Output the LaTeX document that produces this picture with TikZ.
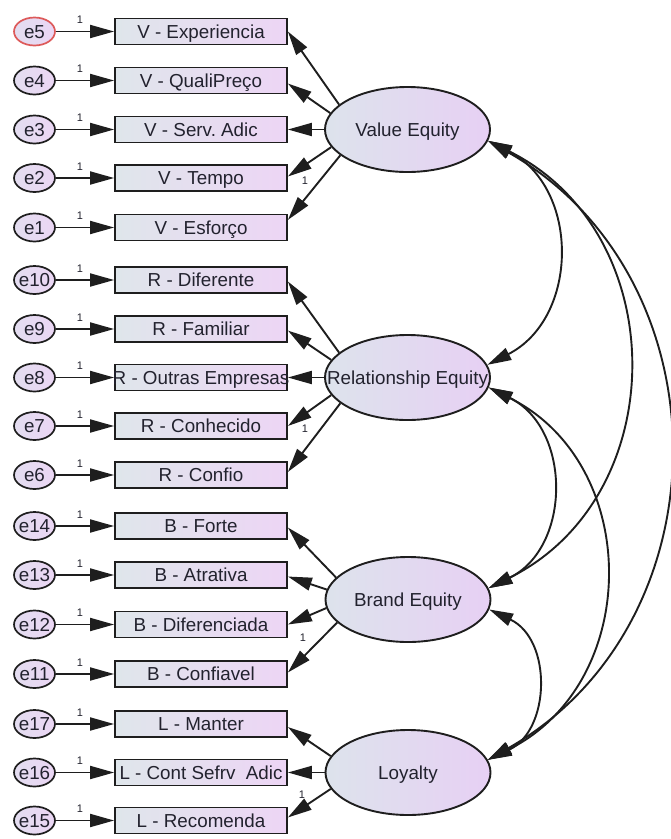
\documentclass[tikz,border=0pt]{standalone}
\usepackage{fontspec}
\setmainfont{Liberation Sans}
\usetikzlibrary{arrows.meta,shapes.geometric}
\frenchspacing

\definecolor{boxL}{HTML}{DFE6EB}
\definecolor{boxR}{HTML}{EDD5F5}
\definecolor{latL}{HTML}{DDE3EC}
\definecolor{latR}{HTML}{E7D0F4}
\definecolor{errL}{HTML}{E3DDF0}
\definecolor{errR}{HTML}{EBD6F4}
\definecolor{ink}{HTML}{1E1E1E}
\definecolor{txt}{HTML}{22222E}
\definecolor{flag}{HTML}{DD5A5A}

% zero-width label so the shapes keep their own size
\newcommand\zw[1]{\makebox[0pt]{#1}}

\begin{document}
\begin{tikzpicture}[x=1pt,y=-1pt,
  every node/.style={font=\fontsize{18.8}{20}\selectfont, text=txt,
    text height=13.5pt, text depth=0pt},
  obs/.style={draw=ink, line width=1.8pt, left color=boxL, right color=boxR,
    minimum width=172pt, minimum height=26pt, inner sep=0pt},
  err/.style={ellipse, draw=ink, line width=1.7pt, left color=errL, right color=errR,
    minimum width=41pt, minimum height=28pt, inner sep=0pt},
  lat/.style={ellipse, draw=ink, line width=1.9pt, left color=latL, right color=latR,
    minimum width=165pt, minimum height=85pt, inner sep=0pt},
  conn/.style={draw=ink, line width=1.9pt, -{Triangle[length=24pt,width=13pt]}},
  cov/.style={draw=ink, line width=1.9pt,
    {Triangle[length=24pt,width=13pt]}-{Triangle[length=24pt,width=13pt]}},
  one/.style={font=\fontsize{11}{12}\selectfont, text height=8pt, inner sep=0pt}
]
\useasboundingbox (0,0) rectangle (671,839);

% ---- latent variables
\node[lat] (VE) at (407.5,129.5) {\zw{Value Equity}};
\node[lat] (RE) at (407.5,377.5) {\zw{Relationship Equity}};
\node[lat] (BE) at (408,599.5) {\zw{Brand Equity}};
\node[lat] (LY) at (408,772.5) {\zw{Loyalty}};

% ---- observed indicators
\node[obs] (v1) at (201,31.5)  {\zw{V - Experiencia}};
\node[obs] (v2) at (201,80.5)  {\zw{V - QualiPreço}};
\node[obs] (v3) at (201,129.5) {\zw{V - Serv. Adic}};
\node[obs] (v4) at (201,178)   {\zw{V - Tempo}};
\node[obs] (v5) at (201,227.5) {\zw{V - Esforço}};

\node[obs] (r1) at (201,280)   {\zw{R - Diferente}};
\node[obs] (r2) at (201,329)   {\zw{R - Familiar}};
\node[obs] (r3) at (201,377.5) {\zw{R - Outras Empresas}};
\node[obs] (r4) at (201,426)   {\zw{R - Conhecido}};
\node[obs] (r5) at (201,475)   {\zw{R - Confio}};

\node[obs] (b1) at (201,526)   {\zw{B - Forte}};
\node[obs] (b2) at (201,575)   {\zw{B - Atrativa}};
\node[obs] (b3) at (201,624.5) {\zw{B - Diferenciada}};
\node[obs] (b4) at (201,674)   {\zw{B - Confiavel}};

\node[obs] (l1) at (201,724)   {\zw{L - Manter}};
\node[obs] (l2) at (201,772.5) {\zw{L - Cont Sefrv~ Adic}};
\node[obs] (l3) at (201,820.5) {\zw{L - Recomenda}};

% ---- error terms
\node[err, draw=flag] (e5) at (34.5,31.5) {\zw{e5}};
\node[err] (e4)  at (34.5,80.5)  {\zw{e4}};
\node[err] (e3)  at (34.5,129.5) {\zw{e3}};
\node[err] (e2)  at (34.5,178)   {\zw{e2}};
\node[err] (e1)  at (34.5,227.5) {\zw{e1}};
\node[err] (e10) at (34.5,280)   {\zw{e10}};
\node[err] (e9)  at (34.5,329)   {\zw{e9}};
\node[err] (e8)  at (34.5,377.5) {\zw{e8}};
\node[err] (e7)  at (34.5,426)   {\zw{e7}};
\node[err] (e6)  at (34.5,475)   {\zw{e6}};
\node[err] (e14) at (34.5,526)   {\zw{e14}};
\node[err] (e13) at (34.5,575)   {\zw{e13}};
\node[err] (e12) at (34.5,624.5) {\zw{e12}};
\node[err] (e11) at (34.5,674)   {\zw{e11}};
\node[err] (e17) at (34.5,724)   {\zw{e17}};
\node[err] (e16) at (34.5,772.5) {\zw{e16}};
\node[err] (e15) at (34.5,820.5) {\zw{e15}};

% ---- error paths with fixed weights
\foreach \e/\o/\y in {e5/v1/31.5, e4/v2/80.5, e3/v3/129.5, e2/v4/178, e1/v5/227.5,
                      e10/r1/280, e9/r2/329, e8/r3/377.5, e7/r4/426, e6/r5/475,
                      e14/b1/526, e13/b2/575, e12/b3/624.5, e11/b4/674,
                      e17/l1/724, e16/l2/772.5, e15/l3/820.5} {
  \draw[conn] (\e) -- (\o);
  \node[one] (w\e) at (80,\y-12) {1};
}

% ---- factor loadings
\draw[conn] (VE.160) -- (v1.east);
\draw[conn] (VE.168) -- (v2.-2);
\draw[conn] (VE.180) -- (v3.east);
\draw[conn] (VE.193) -- (v4.1);
\draw[conn] (VE.201) -- (v5.5);

\draw[conn] (RE.160) -- (r1.-1);
\draw[conn] (RE.167) -- (r2.-1);
\draw[conn] (RE.180) -- (r3.east);
\draw[conn] (RE.193) -- (r4.east);
\draw[conn] (RE.201) -- (r5.2);

\draw[conn] (BE.163) -- (b1.-1);
\draw[conn] (BE.173) -- (b2.-1);
\draw[conn] (BE.186) -- (b3.east);
\draw[conn] (BE.198) -- (b4.1);

\draw[conn] (LY.168) -- (l1.-2);
\draw[conn] (LY.180) -- (l2.east);
\draw[conn] (LY.192) -- (l3.2);

\node[one] (fv) at (305,180) {1};
\node[one] (fr) at (305,428) {1};
\node[one] (fb) at (303,637) {1};
\node[one] (fl) at (302,794) {1};

% ---- covariances between latent variables
\draw[cov] (VE.-8) .. controls +(92,47)   and +(92,-47)   .. (RE.9);
\draw[cov] (VE.-8) .. controls +(185,92)  and +(185,-92)  .. (BE.8);
\draw[cov] (VE.-8) .. controls +(240,137) and +(240,-137) .. (LY.9);
\draw[cov] (RE.-7) .. controls +(83,41)   and +(83,-41)   .. (BE.8);
\draw[cov] (RE.-7) .. controls +(154,77)  and +(154,-77)  .. (LY.9);
\draw[cov] (BE.-7) .. controls +(63,30)   and +(63,-30)   .. (LY.9);
\end{tikzpicture}
\end{document}
